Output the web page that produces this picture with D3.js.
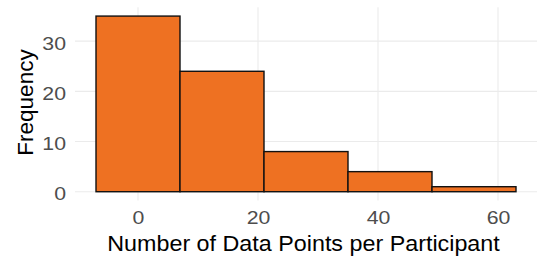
<!DOCTYPE html>
<html>
<head>
<meta charset="utf-8">
<script src="https://cdn.jsdelivr.net/npm/d3@7"></script>
<style>
  body { margin: 0; background: #fff; }
  text { font-family: Arial, "Liberation Sans", Helvetica, sans-serif; }
</style>
</head>
<body>
<svg id="chart" width="537" height="259"></svg>
<script>
// histogram bins (binwidth 14, centred on 0)
var binStarts = [-7, 7, 21, 35, 49];
var binWidth = 14;
var counts = [35, 24, 8, 4, 1];
var xTicks = [0, 20, 40, 60];
var yTicks = [0, 10, 20, 30];

var svg = d3.select("#chart");
var margin = {left: 75, right: 0, top: 7.3, bottom: 58.5};
var W = 537, H = 259;
var fontFam = "Arial, 'Liberation Sans', Helvetica, sans-serif";
var stretch = 1.17; // text in the picture is a bit wider than plain Arial

// expand 5% each side like ggplot
var xMin = d3.min(binStarts), xMax = d3.max(binStarts) + binWidth;
var xPad = (xMax - xMin) * 0.05;
var yMax = d3.max(counts), yPad = yMax * 0.05;

var x = d3.scaleLinear().domain([xMin - xPad, xMax + xPad]).range([margin.left, W - margin.right]);
var y = d3.scaleLinear().domain([-yPad, yMax + yPad]).range([H - margin.bottom, margin.top]);

var grid = svg.append("g");
grid.selectAll(".gx").data(xTicks).enter().append("line")
  .attr("x1", function(d){ return x(d); }).attr("x2", function(d){ return x(d); })
  .attr("y1", y.range()[0]).attr("y2", y.range()[1])
  .attr("stroke", "#ebebeb").attr("stroke-width", 1.1);
grid.selectAll(".gy").data(yTicks).enter().append("line")
  .attr("y1", function(d){ return y(d); }).attr("y2", function(d){ return y(d); })
  .attr("x1", x.range()[0]).attr("x2", x.range()[1])
  .attr("stroke", "#ebebeb").attr("stroke-width", 1.1);

svg.selectAll(".bar").data(counts).enter().append("rect")
  .attr("x", function(d, i){ return x(binStarts[i]); })
  .attr("width", function(d, i){ return x(binStarts[i] + binWidth) - x(binStarts[i]); })
  .attr("y", function(d){ return y(d); })
  .attr("height", function(d){ return y(0) - y(d); })
  .attr("fill", "#ee7122")
  .attr("stroke", "#111")
  .attr("stroke-width", 1.4);

// axes (no lines, just labels)
var xAxis = svg.append("g").attr("transform", "translate(0," + (y(0) + 8.8) + ")")
  .call(d3.axisBottom(x).tickValues(xTicks).tickSize(0).tickPadding(10.5));
var yAxis = svg.append("g").attr("transform", "translate(" + (x.range()[0] - 1) + ",0)")
  .call(d3.axisLeft(y).tickValues(yTicks).tickSize(0).tickPadding(8));
[xAxis, yAxis].forEach(function(a){
  a.select(".domain").remove();
  a.selectAll("text").attr("fill", "#4d4d4d").style("font-size", "18.2px")
    .style("font-family", fontFam)
    .attr("transform", "scale(" + stretch + ",1)");
});
yAxis.selectAll("text").attr("x", -8 / stretch).attr("dy", "0.45em");

svg.append("text")
  .attr("transform", "translate(303.5,251) scale(1.06,1)")
  .attr("text-anchor", "middle")
  .style("font-size", "22px").attr("fill", "#000")
  .text("Number of Data Points per Participant");

svg.append("text")
  .attr("transform", "translate(33,102.5) rotate(-90)")
  .attr("text-anchor", "middle")
  .style("font-size", "22.5px").attr("fill", "#000")
  .text("Frequency");
</script>
</body>
</html>
